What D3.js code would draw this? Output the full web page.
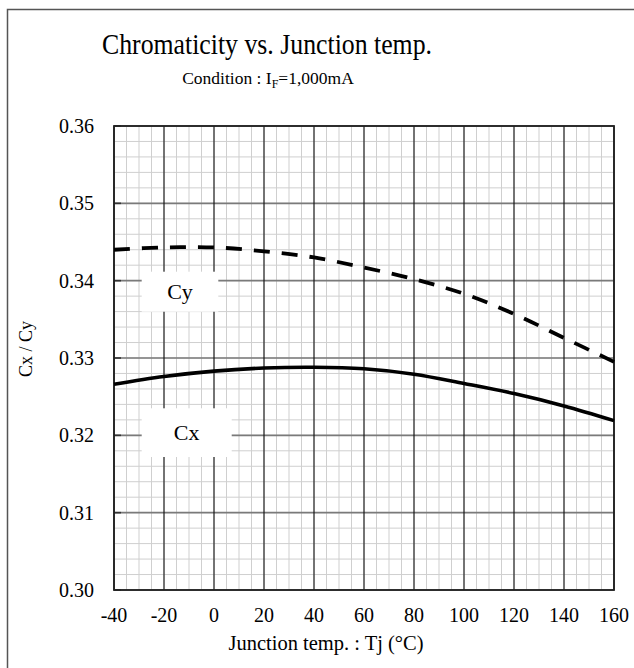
<!DOCTYPE html>
<html><head><meta charset="utf-8">
<script src="https://cdn.jsdelivr.net/npm/d3@7/dist/d3.min.js"></script>
<style>
html,body{margin:0;padding:0;background:#fff;}
svg text{font-family:"Liberation Serif","Times New Roman",serif;fill:#000;}
</style></head>
<body><svg id="c" width="634" height="668"></svg>
<script>
const temps = [-40,-20,0,20,40,60,80,100,120,140,160];
const cxValues = [0.3266,0.3276,0.3283,0.3287,0.3288,0.3286,0.3279,0.3267,0.3254,0.3238,0.3219];
const cyValues = [0.3440,0.3443,0.3443,0.3438,0.3430,0.3417,0.3402,0.3383,0.3357,0.3326,0.3295];
const xTicks = [-40,-20,0,20,40,60,80,100,120,140,160];
const yTicks = [0.30,0.31,0.32,0.33,0.34,0.35,0.36];
const seriesLabels = ["Cx","Cy"];

const svg = d3.select("#c");
const L=114, R=614, T=126, B=590;
const x = d3.scaleLinear().domain([-40,160]).range([L,R]);
const y = d3.scaleLinear().domain([0.30,0.36]).range([B,T]);

// frame
svg.append("path").attr("d",`M7.5,700 V9.5 H700`).attr("fill","none").attr("stroke","#555").attr("stroke-width",1.5);

// minor grid
const g = svg.append("g");
d3.range(-40,160.1,5).forEach(v=>{
  g.append("line").attr("x1",x(v)).attr("x2",x(v)).attr("y1",T).attr("y2",B).attr("stroke","#cfcfcf").attr("stroke-width",1);
});
d3.range(0,31).forEach(i=>{
  const v=0.30+i*0.002;
  g.append("line").attr("x1",L).attr("x2",R).attr("y1",y(v)).attr("y2",y(v)).attr("stroke","#cfcfcf").attr("stroke-width",1);
});
// major horizontals
yTicks.forEach(v=>{
  g.append("line").attr("x1",L).attr("x2",R).attr("y1",y(v)).attr("y2",y(v)).attr("stroke","#7a7a7a").attr("stroke-width",1.6);
  g.append("line").attr("x1",L).attr("x2",L+7).attr("y1",y(v)).attr("y2",y(v)).attr("stroke","#333").attr("stroke-width",1.6);
});
// major verticals
xTicks.forEach(v=>{
  g.append("line").attr("x1",x(v)).attr("x2",x(v)).attr("y1",T).attr("y2",B).attr("stroke","#000").attr("stroke-width",1);
});
// plot border
svg.append("rect").attr("x",L).attr("y",T).attr("width",R-L).attr("height",B-T).attr("fill","none").attr("stroke","#222").attr("stroke-width",1.8);

// label boxes
const boxes = [{t:seriesLabels[1],x0:141.7,y0:271.7,x1:218.3,y1:311.7},{t:seriesLabels[0],x0:141.7,y0:408.3,x1:231.7,y1:457}];
boxes.forEach(b=>{
  svg.append("rect").attr("x",b.x0).attr("y",b.y0).attr("width",b.x1-b.x0).attr("height",b.y1-b.y0).attr("fill","#fff");
  svg.append("text").attr("x",(b.x0+b.x1)/2).attr("y",(b.y0+b.y1)/2+7.5).attr("text-anchor","middle").attr("font-size",22).text(b.t);
});

// curves
const line = d3.line().x(d=>x(d[0])).y(d=>y(d[1])).curve(d3.curveCatmullRom);
svg.append("path").attr("d",line(temps.map((t,i)=>[t,cxValues[i]]))).attr("fill","none").attr("stroke","#000").attr("stroke-width",3.6);
svg.append("path").attr("d",line(temps.map((t,i)=>[t,cyValues[i]]))).attr("fill","none").attr("stroke","#000").attr("stroke-width",3.8).attr("stroke-dasharray","16,12");

// tick labels
yTicks.forEach(v=>{
  svg.append("text").attr("x",94).attr("y",y(v)+7).attr("text-anchor","end").attr("font-size",20).text(v.toFixed(2));
});
xTicks.forEach(v=>{
  svg.append("text").attr("x",x(v)).attr("y",622).attr("text-anchor","middle").attr("font-size",20).text(v);
});

// titles
svg.append("text").attr("x",102).attr("y",54).attr("font-size",29)
  .attr("textLength",330).attr("lengthAdjust","spacingAndGlyphs").text("Chromaticity vs. Junction temp.");
const sub = svg.append("text").attr("x",268).attr("y",84).attr("text-anchor","middle").attr("font-size",17.5);
sub.append("tspan").text("Condition :  I");
sub.append("tspan").attr("font-size",12).attr("dy",4).text("F");
sub.append("tspan").attr("dy",-4).text("=1,000mA");
svg.append("text").attr("x",326).attr("y",650).attr("text-anchor","middle").attr("font-size",20.5).text("Junction temp. : Tj (°C)");
svg.append("text").attr("transform","translate(32,349) rotate(-90)").attr("text-anchor","middle").attr("font-size",18).text("Cx / Cy");
</script></body></html>
